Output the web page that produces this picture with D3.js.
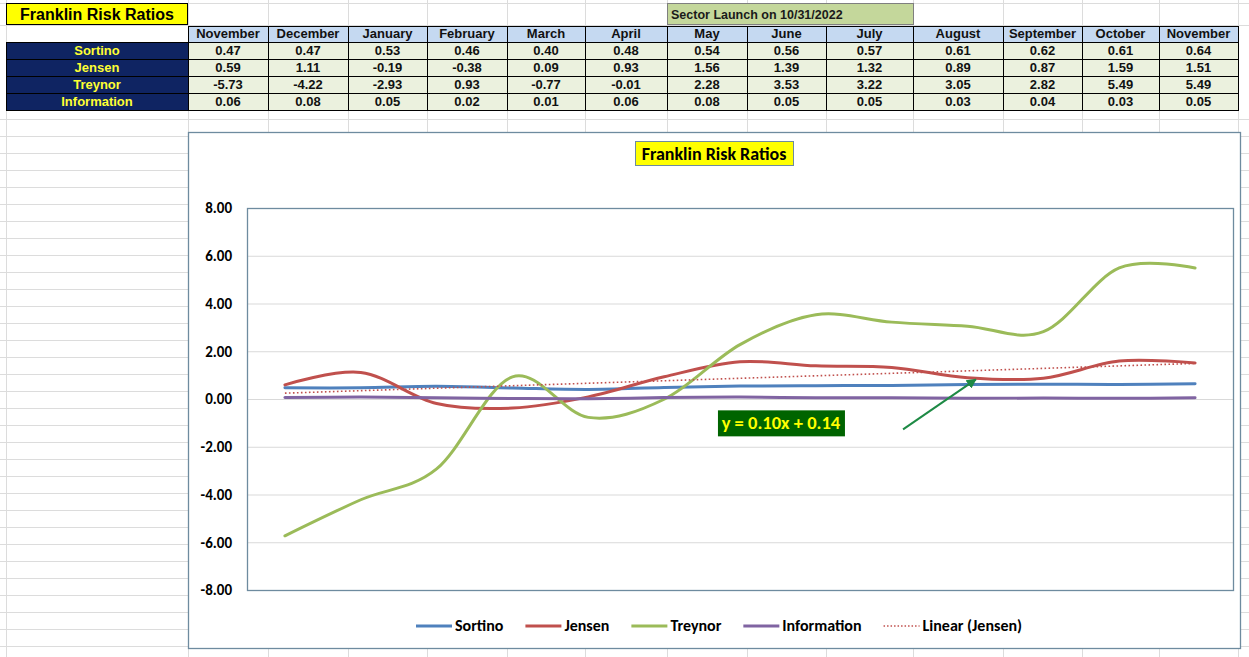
<!DOCTYPE html>
<html><head><meta charset="utf-8">
<script src="https://cdn.jsdelivr.net/npm/d3@7"></script>
<style>
html,body{margin:0;padding:0;background:#fff;}
svg{display:block;}
</style></head>
<body>
<svg id="c" width="1249" height="657"></svg>
<script>
// ---- data ----
const months = ["November","December","January","February","March","April","May","June","July","August","September","October","November"];
const seriesNames = ["Sortino","Jensen","Treynor","Information"];
const sortino = [0.47,0.47,0.53,0.46,0.40,0.48,0.54,0.56,0.57,0.61,0.62,0.61,0.64];
const jensen = [0.59,1.11,-0.19,-0.38,0.09,0.93,1.56,1.39,1.32,0.89,0.87,1.59,1.51];
const treynor = [-5.73,-4.22,-2.93,0.93,-0.77,-0.01,2.28,3.53,3.22,3.05,2.82,5.49,5.49];
const information = [0.06,0.08,0.05,0.02,0.01,0.06,0.08,0.05,0.05,0.03,0.04,0.03,0.05];
const yTicks = [8,6,4,2,0,-2,-4,-6,-8];
const tableTitle = "Franklin Risk Ratios";
const chartTitle = "Franklin Risk Ratios";
const launchNote = "Sector Launch on 10/31/2022";
const trendLabel = "y = 0.10x + 0.14";
const colors = ["#4f81bd","#c0504d","#9bbb59","#8064a2"];

const seriesValues = [sortino, jensen, treynor, information];

// ---- layout ----
const svg = d3.select("#c");
const tableFont = "'Liberation Sans', Arial, sans-serif";
const chartFont = "Carlito, Calibri, Lato, sans-serif";
const colEdges = [188,268,348,427,507,585,667,747,826,913,1003,1082,1159,1238];
const labelCol = [6,188];
const rowTop = 26, rowH = 17;

// spreadsheet gridlines
const grid = svg.append("g").attr("stroke","#dcdcdc").attr("stroke-width",1);
const vLines = [6].concat(colEdges);
vLines.forEach(x => grid.append("line").attr("x1",x+0.5).attr("x2",x+0.5).attr("y1",0).attr("y2",657));
const hLines = [3,25];
for (let y = 119; y < 657; y += 17) hLines.push(y);
hLines.forEach(y => grid.append("line").attr("x1",0).attr("x2",1249).attr("y1",y+0.5).attr("y2",y+0.5));

// title cell
svg.append("rect").attr("x",6.5).attr("y",3.5).attr("width",181).attr("height",21)
  .attr("fill","#ffff00").attr("stroke","#000");
svg.append("text").attr("x",97).attr("y",20).attr("text-anchor","middle")
  .attr("font-family",tableFont).attr("font-weight","bold").attr("font-size",16).text(tableTitle);

// launch note cell
svg.append("rect").attr("x",colEdges[6]+0.5).attr("y",3.5).attr("width",colEdges[9]-colEdges[6]).attr("height",21)
  .attr("fill","#c4d79b").attr("stroke","#7f7f7f");
svg.append("text").attr("x",colEdges[6]+4).attr("y",19).attr("font-family",tableFont)
  .attr("font-weight","bold").attr("font-size",12.5).attr("fill","#1a1a1a").text(launchNote);

// table
const tbl = svg.append("g");
months.forEach((m,i) => {
  const x0 = colEdges[i], x1 = colEdges[i+1];
  tbl.append("rect").attr("x",x0+0.5).attr("y",rowTop+0.5).attr("width",x1-x0).attr("height",rowH-1)
    .attr("fill","#c5d9f1").attr("stroke","#000");
  tbl.append("text").attr("x",(x0+x1)/2).attr("y",rowTop+12).attr("text-anchor","middle")
    .attr("font-family",tableFont).attr("font-weight","bold").attr("font-size",13).attr("fill","#111").text(m);
});
seriesNames.forEach((name,r) => {
  const y0 = rowTop + rowH*(r+1) - 1;
  tbl.append("rect").attr("x",labelCol[0]+0.5).attr("y",y0+0.5).attr("width",labelCol[1]-labelCol[0]).attr("height",rowH)
    .attr("fill","#0f2462").attr("stroke","#000");
  tbl.append("text").attr("x",(labelCol[0]+labelCol[1])/2).attr("y",y0+13).attr("text-anchor","middle")
    .attr("font-family",tableFont).attr("font-weight","bold").attr("font-size",13).attr("fill","#ffff33").text(name);
  seriesValues[r].forEach((v,i) => {
    const x0 = colEdges[i], x1 = colEdges[i+1];
    tbl.append("rect").attr("x",x0+0.5).attr("y",y0+0.5).attr("width",x1-x0).attr("height",rowH)
      .attr("fill","#ebf1de").attr("stroke","#000");
    tbl.append("text").attr("x",(x0+x1)/2).attr("y",y0+13).attr("text-anchor","middle")
      .attr("font-family",tableFont).attr("font-weight","bold").attr("font-size",13).attr("fill","#111").text(v.toFixed(2));
  });
});

// chart frame
const chartBox = {x:188, y:132, w:1052, h:516};
svg.append("rect").attr("x",chartBox.x+0.5).attr("y",chartBox.y+0.5).attr("width",chartBox.w).attr("height",chartBox.h)
  .attr("fill","#fff").attr("stroke","#6e8b9f").attr("stroke-width",1.3);

const plot = {l:247, r:1233, t:208, b:590};
const idx = d3.range(months.length);
const x = d3.scalePoint().domain(idx).range([plot.l, plot.r]).padding(0.5);
const y = d3.scaleLinear().domain([-8,8]).range([plot.b, plot.t]);

// gridlines
svg.append("g").attr("transform",`translate(${plot.l},0)`)
  .call(d3.axisLeft(y).tickValues(yTicks.filter(t => t > -8 && t < 8)).tickSize(-(plot.r-plot.l)).tickFormat(""))
  .call(g => g.select(".domain").remove())
  .call(g => g.selectAll("line").attr("stroke","#d9d9d9").attr("stroke-width",1));

// y tick labels
svg.append("g").attr("transform",`translate(${plot.l-15},0)`)
  .call(d3.axisLeft(y).tickValues(yTicks).tickSize(0).tickPadding(0).tickFormat(d => d.toFixed(2)))
  .call(g => g.select(".domain").remove())
  .call(g => g.selectAll("text").attr("font-family",chartFont).attr("font-weight","bold")
    .attr("font-size",15).attr("fill","#000"));

// plot border
svg.append("rect").attr("x",plot.l+0.5).attr("y",plot.t+0.5).attr("width",plot.r-plot.l).attr("height",plot.b-plot.t)
  .attr("fill","none").attr("stroke","#6e8b9f").attr("stroke-width",1.3);

// title
const tG = svg.append("g");
tG.append("rect").attr("x",635.5).attr("y",141.5).attr("width",158).attr("height",24)
  .attr("fill","#ffff00").attr("stroke","#6e8b9f");
tG.append("text").attr("x",714).attr("y",160).attr("text-anchor","middle")
  .attr("font-family",chartFont).attr("font-weight","bold").attr("font-size",18).attr("fill","#000").text(chartTitle);

// lines
const line = d3.line().x((d,i) => x(i)).y(d => y(d)).curve(d3.curveCardinal.tension(0));
seriesValues.forEach((vals,k) => {
  svg.append("path").datum(vals).attr("d",line).attr("fill","none")
    .attr("stroke",colors[k]).attr("stroke-width",3).attr("stroke-linecap","round");
});

// linear trend of Jensen (least squares on x = 1..n)
const xs = idx.map(i => i+1);
const mx = d3.mean(xs), my = d3.mean(jensen);
const slope = d3.sum(xs.map((xv,i) => (xv-mx)*(jensen[i]-my))) / d3.sum(xs.map(xv => (xv-mx)*(xv-mx)));
const inter = my - slope*mx;
const trendVals = xs.map(xv => inter + slope*xv);
svg.append("path").datum(trendVals).attr("d",d3.line().x((d,i)=>x(i)).y(d=>y(d)))
  .attr("fill","none").attr("stroke","#c0504d").attr("stroke-width",1.6).attr("stroke-dasharray","1.6,2.4");

// trend label
const lab = svg.append("g");
const labCx = x(6) + 0.54*x.step(), labCy = y(-1.02);
lab.append("rect").attr("x",labCx-63).attr("y",labCy-13).attr("width",127).attr("height",26).attr("fill","#006400");
lab.append("text").attr("x",labCx).attr("y",labCy+6).attr("text-anchor","middle")
  .attr("font-family",chartFont).attr("font-weight","bold").attr("font-size",18.5).attr("fill","#ffff00").text(trendLabel);

// arrow
const defs = svg.append("defs");
defs.append("marker").attr("id","ah").attr("viewBox","0 0 10 10").attr("refX",9).attr("refY",5)
  .attr("markerWidth",5).attr("markerHeight",5).attr("orient","auto")
  .append("path").attr("d","M0,0 L10,5 L0,10 z").attr("fill","#1e8a45");
const ax0 = x(8)+0.15*x.step(), ay0 = y(-1.27), ax1 = x(9)+0.11*x.step(), ay1 = y(0.82);
svg.append("line").attr("x1",ax0).attr("y1",ay0).attr("x2",ax1).attr("y2",ay1)
  .attr("stroke","#1e8a45").attr("stroke-width",2).attr("marker-end","url(#ah)");

// legend
const legItems = seriesNames.map((s,k) => ({name:s, color:colors[k], dash:null}))
  .concat([{name:"Linear (Jensen)", color:"#c0504d", dash:"1.5,2"}]);
const leg = svg.append("g");
let lx = 416; const ly = 626;
legItems.forEach(it => {
  const g = leg.append("g");
  g.append("line").attr("x1",lx).attr("x2",lx+36).attr("y1",ly).attr("y2",ly)
    .attr("stroke",it.color).attr("stroke-width",it.dash ? 1.3 : 3)
    .attr("stroke-dasharray",it.dash);
  const t = g.append("text").attr("x",lx+39).attr("y",ly+5).attr("font-family",chartFont)
    .attr("font-weight","bold").attr("font-size",16).attr("fill","#000").text(it.name);
  lx += 39 + t.node().getComputedTextLength() + 22;
});
</script>
</body></html>
